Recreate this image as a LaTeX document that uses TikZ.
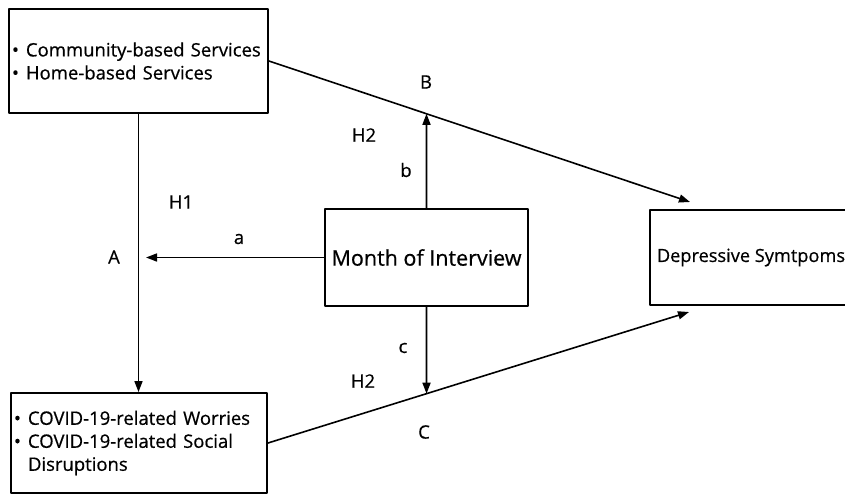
\documentclass[tikz,border=0pt]{standalone}
\usepackage{fontspec}
\setmainfont{Open Sans}[FakeBold=0.6]
\usetikzlibrary{arrows.meta}

\begin{document}
\begin{tikzpicture}[x=1pt,y=-1pt,line cap=round,line join=round,>={Triangle[length=11pt,width=8pt]},line width=1.6pt,
	box/.style={draw,line width=1.9pt,line cap=butt,inner xsep=3pt,align=left},
	lbl/.style={font=\fontsize{18.5}{22}\selectfont}]
\useasboundingbox (0,0) rectangle (845,496);
% boxes
\node[box,minimum width=259,minimum height=104,text width=253,font=\fontsize{18.5}{23}\selectfont] (serv) at (138.5,61)
	{\textbullet\hspace{7pt}Community-based Services\\ \textbullet\hspace{7pt}Home-based Services};
\node[box,minimum width=256,minimum height=100,text width=250,font=\fontsize{18.5}{23}\selectfont] (worry) at (139,443)
	{\textbullet\hspace{7pt}COVID-19-related Worries\\ \textbullet\hspace{7pt}COVID-19-related Social\\ \hphantom{\textbullet}\hspace{7pt}Disruptions};
\node[box,align=center,minimum width=203,minimum height=97,font=\fontsize{21.5}{26}\selectfont] (month) at (426.5,257.5) {Month of Interview};
\node[box,align=center,minimum width=202,minimum height=95,font=\fontsize{18.2}{22}\selectfont] (dep) at (751,257.5) {Depressive Symtpoms};
\coordinate (tipB) at (690,202);
\coordinate (tipC) at (689,312);
\coordinate (tipA) at (146,257.5);
% paths
\draw[->] (serv.south) -- (serv.south |- worry.north);
\draw[->] (month.west) -- (tipA);
\draw[->] (serv.east) -- (tipB);
\draw[->] (worry.east) -- (tipC);
\draw[->] (month.north) -- (intersection of month.north--month.south and serv.east--tipB);
\draw[->] (month.south) -- (intersection of month.north--month.south and worry.east--tipC);
% labels
\node[lbl] (labB) at (426,82) {B};
\node[lbl] (hypB) at (364,135) {H2};
\node[lbl] (pathb) at (406,170) {b};
\node[lbl] (hypA) at (181,202) {H1};
\node[lbl] (patha) at (239,239) {a};
\node[lbl] (labA) at (114,257) {A};
\node[lbl] (pathc) at (403,348) {c};
\node[lbl] (hypC) at (363,381) {H2};
\node[lbl] (labC) at (424,432) {C};
\end{tikzpicture}
\end{document}
